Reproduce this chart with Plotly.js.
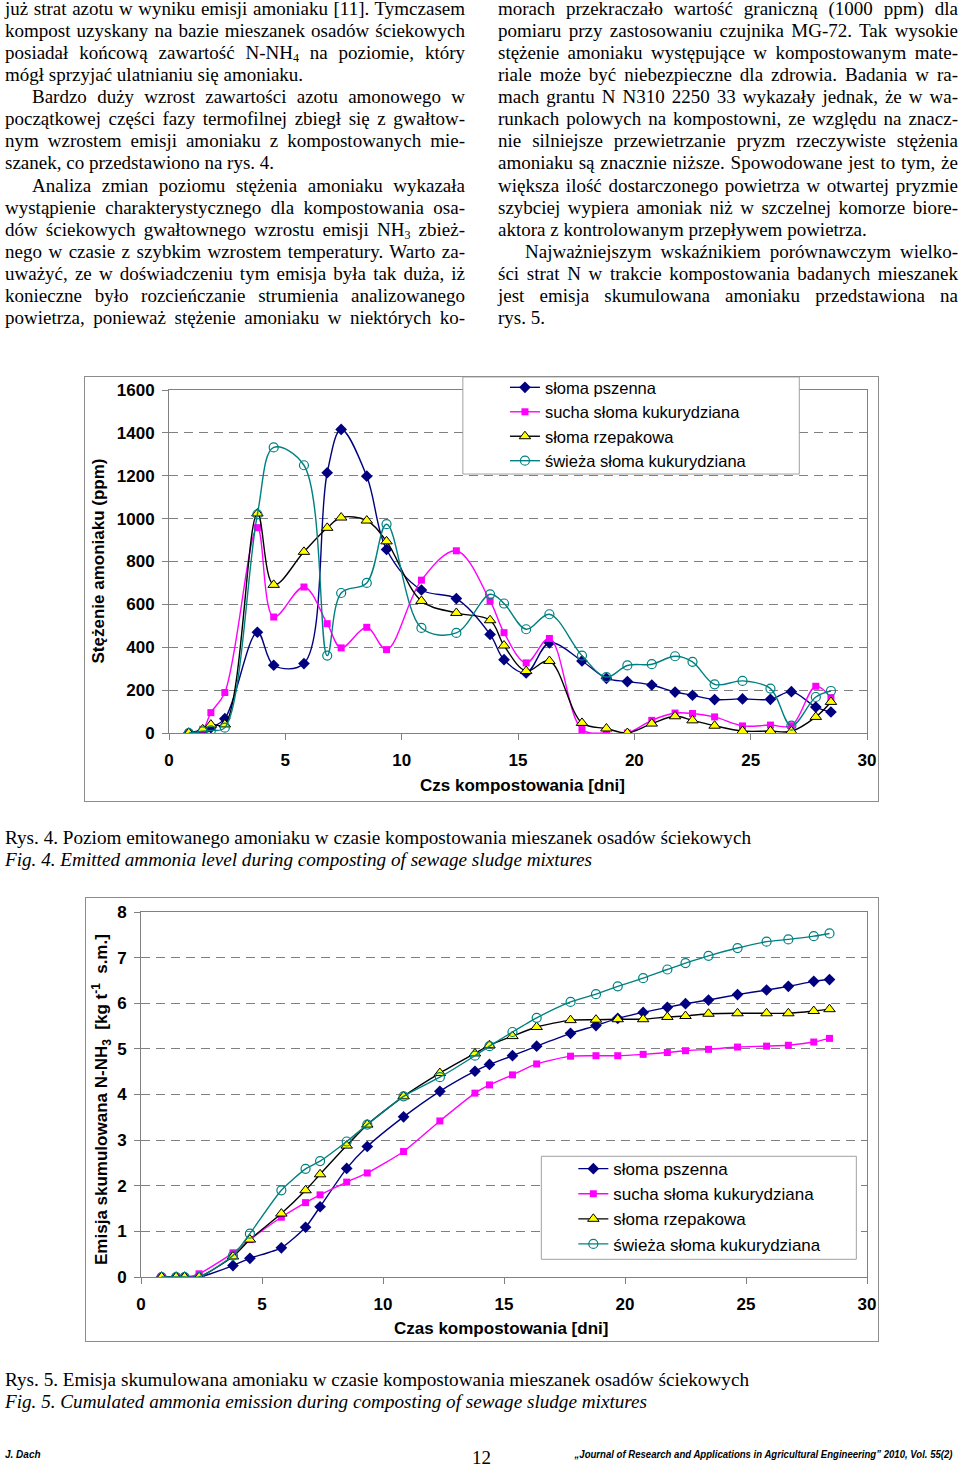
<!DOCTYPE html>
<html><head><meta charset="utf-8">
<script src="https://cdn.plot.ly/plotly-3.0.1.min.js"></script>
<style>
html,body{margin:0;padding:0;background:#fff;}
#page{position:relative;width:960px;height:1468px;overflow:hidden;background:#fff;}
.col{position:absolute;top:-2.5px;width:460px;font-family:"Liberation Serif","Times New Roman",serif;font-size:19px;line-height:22.14px;color:#000;}
.col div{white-space:nowrap;}
.j{text-align:justify;text-align-last:justify;}
.ind{text-indent:27px;}
sub{font-size:12px;line-height:0;vertical-align:-3px;}
.cap{position:absolute;left:5px;font-family:"Liberation Serif","Times New Roman",serif;font-size:19px;line-height:22px;white-space:nowrap;transform-origin:left center;}
.it{font-style:italic;}
.frame{position:absolute;border:1px solid #8c8c8c;box-sizing:border-box;pointer-events:none;}
.plot{position:absolute;}
.foot{position:absolute;font-family:"Liberation Sans",Arial,sans-serif;font-size:10px;font-weight:bold;font-style:italic;white-space:nowrap;line-height:12px;}
</style></head>
<body><div id="page">
<div class="col" style="left:5px">
<div class="j">już strat azotu w wyniku emisji amoniaku [11]. Tymczasem</div>
<div class="j">kompost uzyskany na bazie mieszanek osadów ściekowych</div>
<div class="j">posiadał końcową zawartość N-NH<sub>4</sub> na poziomie, który</div>
<div>mógł sprzyjać ulatnianiu się amoniaku.</div>
<div class="j ind">Bardzo duży wzrost zawartości azotu amonowego w</div>
<div class="j">początkowej części fazy termofilnej zbiegł się z gwałtow-</div>
<div class="j">nym wzrostem emisji amoniaku z kompostowanych mie-</div>
<div>szanek, co przedstawiono na rys. 4.</div>
<div class="j ind">Analiza zmian poziomu stężenia amoniaku wykazała</div>
<div class="j">wystąpienie charakterystycznego dla kompostowania osa-</div>
<div class="j">dów ściekowych gwałtownego wzrostu emisji NH<sub>3</sub> zbież-</div>
<div class="j">nego w czasie z szybkim wzrostem temperatury. Warto za-</div>
<div class="j">uważyć, ze w doświadczeniu tym emisja była tak duża, iż</div>
<div class="j">konieczne było rozcieńczanie strumienia analizowanego</div>
<div class="j">powietrza, ponieważ stężenie amoniaku w niektórych ko-</div>
</div>
<div class="col" style="left:498px">
<div class="j">morach przekraczało wartość graniczną (1000 ppm) dla</div>
<div class="j">pomiaru przy zastosowaniu czujnika MG-72. Tak wysokie</div>
<div class="j">stężenie amoniaku występujące w kompostowanym mate-</div>
<div class="j">riale może być niebezpieczne dla zdrowia. Badania w ra-</div>
<div class="j">mach grantu N N310 2250 33 wykazały jednak, że w wa-</div>
<div class="j">runkach polowych na kompostowni, ze względu na znacz-</div>
<div class="j">nie silniejsze przewietrzanie pryzm rzeczywiste stężenia</div>
<div class="j">amoniaku są znacznie niższe. Spowodowane jest to tym, że</div>
<div class="j">większa ilość dostarczonego powietrza w otwartej pryzmie</div>
<div class="j">szybciej wypiera amoniak niż w szczelnej komorze biore-</div>
<div>aktora z kontrolowanym przepływem powietrza.</div>
<div class="j ind">Najważniejszym wskaźnikiem porównawczym wielko-</div>
<div class="j">ści strat N w trakcie kompostowania badanych mieszanek</div>
<div class="j">jest emisja skumulowana amoniaku przedstawiona na</div>
<div>rys. 5.</div>
</div>

<div id="chart1" class="plot" style="left:84px;top:376px;width:794px;height:425px"></div>
<div class="frame" style="left:84px;top:376px;width:795px;height:426px"></div>

<div class="cap" data-w="746" style="top:827px">Rys. 4. Poziom emitowanego amoniaku w czasie kompostowania mieszanek osadów ściekowych</div>
<div class="cap it" data-w="587" style="top:849px">Fig. 4. Emitted ammonia level during composting of sewage sludge mixtures</div>

<div id="chart2" class="plot" style="left:85px;top:897px;width:793px;height:444px"></div>
<div class="frame" style="left:85px;top:897px;width:794px;height:445px"></div>

<div class="cap" data-w="744" style="top:1369px">Rys. 5. Emisja skumulowana amoniaku w czasie kompostowania mieszanek osadów ściekowych</div>
<div class="cap it" data-w="642" style="top:1391px">Fig. 5. Cumulated ammonia emission during composting of sewage sludge mixtures</div>

<div class="foot" style="left:5px;top:1449px">J. Dach</div>
<div class="cap" style="left:472px;top:1447px;font-size:19px">12</div>
<div class="foot" id="journal" style="right:7px;top:1449px;transform-origin:right center">„Journal of Research and Applications in Agricultural Engineering” 2010, Vol. 55(2)</div>
</div>
<script>
// ---- data ----
var days = [0.85, 1.45, 1.8, 2.4, 3.8, 4.5, 5.8, 6.8, 7.4, 8.5, 9.35, 10.85, 12.35, 13.8, 14.4, 15.35, 16.35, 17.75, 18.8, 19.7, 20.75, 21.75, 22.5, 23.45, 24.65, 25.85, 26.75, 27.8, 28.45];
var seriesNames = ["słoma pszenna", "sucha słoma kukurydziana", "słoma rzepakowa", "świeża słoma kukurydziana"];

// Rys. 4 - ammonia concentration (ppm)
var ppmWheat = [0, 10, 25, 67, 470, 316, 324, 1214, 1416, 1198, 856, 667, 627, 460, 342, 280, 420, 336, 255, 240, 224, 191, 176, 156, 159, 157, 193, 121, 98];
var ppmDryCorn = [0, 17, 95, 189, 958, 541, 681, 510, 397, 493, 389, 713, 850, 616, 468, 327, 441, 16, 0, 0, 59, 93, 91, 75, 33, 37, 34, 218, 165];
var ppmRape = [0, 17, 39, 40, 1024, 691, 845, 957, 1005, 991, 894, 616, 560, 526, 408, 289, 336, 47, 21, 0, 44, 78, 59, 34, 9, 9, 8, 75, 145];
var ppmFreshCorn = [0, 8, 12, 25, 1020, 1332, 1249, 361, 653, 700, 974, 490, 467, 647, 604, 484, 554, 361, 261, 315, 321, 358, 332, 227, 243, 207, 34, 168, 196];

// Rys. 5 - cumulated emission (kg t-1 s.m.)
var cumWheat = [0, 0, 0, 0, 0.25, 0.41, 0.64, 1.09, 1.54, 2.38, 2.86, 3.51, 4.07, 4.51, 4.66, 4.85, 5.06, 5.34, 5.51, 5.67, 5.8, 5.91, 5.99, 6.07, 6.19, 6.29, 6.37, 6.48, 6.52];
var cumDryCorn = [0, 0, 0, 0.07, 0.53, 0.82, 1.31, 1.63, 1.8, 2.08, 2.28, 2.75, 3.42, 4.03, 4.21, 4.43, 4.67, 4.84, 4.85, 4.85, 4.88, 4.92, 4.96, 4.99, 5.04, 5.06, 5.08, 5.15, 5.23];
var cumRape = [0, 0, 0, 0, 0.45, 0.82, 1.39, 1.9, 2.25, 2.88, 3.34, 3.96, 4.47, 4.9, 5.08, 5.28, 5.48, 5.63, 5.64, 5.65, 5.65, 5.7, 5.72, 5.77, 5.78, 5.78, 5.78, 5.83, 5.87];
var cumFreshCorn = [0, 0, 0, 0, 0.47, 0.95, 1.9, 2.37, 2.54, 2.97, 3.34, 3.96, 4.38, 4.85, 5.06, 5.37, 5.68, 6.03, 6.2, 6.37, 6.55, 6.74, 6.88, 7.04, 7.21, 7.35, 7.4, 7.47, 7.53];

var xTicks1 = [0, 5, 10, 15, 20, 25, 30];

// ---- styles ----
var styles = [
  {line: {color: "#000080", width: 1.4}, marker: {symbol: "diamond", size: 9, color: "#000080"}},
  {line: {color: "#FF00FF", width: 1.4}, marker: {symbol: "square", size: 7, color: "#FF00FF"}},
  {line: {color: "#000000", width: 1.4}, marker: {symbol: "triangle-up", size: 10, color: "#FFFF00", line: {color: "#000000", width: 1}}},
  {line: {color: "#008080", width: 1.4}, marker: {symbol: "circle-open", size: 9, color: "#008080", line: {width: 1.2}}}
];

function makeTraces(ys, smooth) {
  return ys.map(function (y, i) {
    return {
      x: days, y: y, name: seriesNames[i], type: "scatter", mode: "lines+markers",
      line: Object.assign({shape: "spline", smoothing: smooth}, styles[i].line),
      marker: styles[i].marker
    };
  });
}

var FONT = "Liberation Sans, Arial, sans-serif";
function axis(range, dtick, extra) {
  return Object.assign({
    range: range, dtick: dtick, tick0: 0, showline: true, mirror: true, linecolor: "#808080", linewidth: 1,
    ticks: "outside", ticklen: 6, tickcolor: "#808080", zeroline: false,
    tickfont: {family: FONT, size: 17, color: "#000", weight: "bold"}, fixedrange: true
  }, extra || {});
}

var tr1 = makeTraces([ppmWheat, ppmDryCorn, ppmRape, ppmFreshCorn], 1);
var lay1 = {
  width: 794, height: 425, margin: {l: 85, r: 11, t: 14, b: 68, autoexpand: false},
  paper_bgcolor: "rgba(0,0,0,0)", plot_bgcolor: "#fff",
  font: {family: FONT, color: "#000"},
  xaxis: axis([0, 30], 5, {showgrid: false, tickvals: xTicks1, ticklabelstandoff: 6}),
  yaxis: axis([0, 1600], 200, {showgrid: true, gridcolor: "#808080", griddash: "9px,6px", gridwidth: 1, ticklabelstandoff: 4}),
  showlegend: true,
  legend: {x: 0.4813, xanchor: "left", y: 1.058, yanchor: "top", bgcolor: "rgba(0,0,0,0)", borderwidth: 0,
           traceorder: "normal", font: {family: FONT, size: 16.5, color: "#000"}},
  shapes: [{type: "rect", xref: "paper", yref: "paper", x0: 0.421, x1: 0.903, y0: 0.755, y1: 1.038,
            fillcolor: "#fff", line: {color: "#a0a0a0", width: 1}, layer: "above"}],
  annotations: [
    {text: "Stężenie amoniaku (ppm)", xref: "paper", yref: "paper", x: 0, y: 0.5, xshift: -71, textangle: -90,
     showarrow: false, xanchor: "center", yanchor: "middle", font: {family: FONT, size: 17, weight: "bold"}},
    {text: "Czs kompostowania [dni]", xref: "paper", yref: "paper", x: 0.507, y: 0, yshift: -52,
     showarrow: false, xanchor: "center", yanchor: "middle", font: {family: FONT, size: 17, weight: "bold"}}
  ]
};

var tr2 = makeTraces([cumWheat, cumDryCorn, cumRape, cumFreshCorn], 0.6);
var lay2 = {
  width: 793, height: 444, margin: {l: 56, r: 11, t: 15, b: 64, autoexpand: false},
  paper_bgcolor: "rgba(0,0,0,0)", plot_bgcolor: "#fff",
  font: {family: FONT, color: "#000"},
  xaxis: axis([0, 30], 5, {showgrid: false, tickvals: xTicks1, ticklabelstandoff: 6}),
  yaxis: axis([0, 8], 1, {showgrid: true, gridcolor: "#808080", griddash: "9px,6px", gridwidth: 1, ticklabelstandoff: 4}),
  showlegend: true,
  legend: {x: 0.5955, xanchor: "left", y: 0.345, yanchor: "top", bgcolor: "rgba(0,0,0,0)", borderwidth: 0,
           traceorder: "normal", font: {family: FONT, size: 17, color: "#000"}},
  shapes: [{type: "rect", xref: "paper", yref: "paper", x0: 0.5514, x1: 0.9853, y0: 0.0485, y1: 0.3307,
            fillcolor: "#fff", line: {color: "#a0a0a0", width: 1}, layer: "above"}],
  annotations: [
    {text: "Emisja skumulowana N-NH<sub>3</sub>  [kg t<sup>-1</sup>  s.m.]", xref: "paper", yref: "paper", x: 0, y: 0.485, xshift: -39, textangle: -90,
     showarrow: false, xanchor: "center", yanchor: "middle", font: {family: FONT, size: 17, weight: "bold"}},
    {text: "Czas kompostowania [dni]", xref: "paper", yref: "paper", x: 0.4963, y: 0, yshift: -51,
     showarrow: false, xanchor: "center", yanchor: "middle", font: {family: FONT, size: 17, weight: "bold"}}
  ]
};

Plotly.newPlot("chart1", tr1, lay1, {staticPlot: true, displayModeBar: false});
Plotly.newPlot("chart2", tr2, lay2, {staticPlot: true, displayModeBar: false});

// fit caption widths to the printed page
document.querySelectorAll(".cap[data-w]").forEach(function (el) {
  var w = el.getBoundingClientRect().width;
  var target = parseFloat(el.getAttribute("data-w"));
  if (w > 0) el.style.transform = "scaleX(" + (target / w) + ")";
});
(function () {
  var el = document.getElementById("journal");
  var w = el.getBoundingClientRect().width;
  if (w > 0) el.style.transform = "scaleX(" + (378 / w) + ")";
})();
</script>
</body></html>
